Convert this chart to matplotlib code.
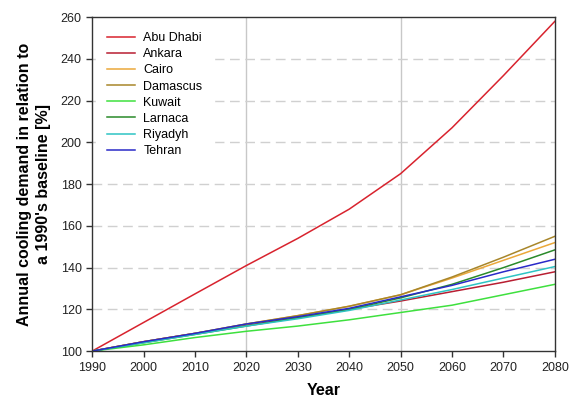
import matplotlib
matplotlib.use("Agg")
import matplotlib.pyplot as plt

plt.rcParams['font.family'] = ['Liberation Sans', 'DejaVu Sans']

years = [1990, 2000, 2010, 2020, 2030, 2040, 2050, 2060, 2070, 2080]

abu_dhabi = [100, 113.7, 127.4, 141, 154, 168, 185, 207, 232, 258]
ankara    = [100, 104.5, 108.5, 112.5, 116, 120, 124, 128.5, 133, 138]
cairo     = [100, 104.5, 108.5, 113, 117, 121.5, 127, 135, 143.5, 152]
damascus  = [100, 104.5, 108.5, 113, 117, 121.5, 127, 135.5, 145, 155]
kuwait    = [100, 103, 106.5, 109.5, 112, 115, 118.5, 122, 127, 132]
larnaca   = [100, 104, 108, 112, 116, 120, 125.5, 132, 140, 148.5]
riyadyh   = [100, 104, 108, 112, 115.5, 119.5, 124.5, 129.5, 135, 140.5]
tehran    = [100, 104.5, 108.5, 113, 116.5, 120.5, 126, 131.5, 138, 144]

cities = ["Abu Dhabi", "Ankara", "Cairo", "Damascus", "Kuwait",
          "Larnaca", "Riyadyh", "Tehran"]
series = [abu_dhabi, ankara, cairo, damascus, kuwait, larnaca, riyadyh, tehran]
colors = ["#d8232e", "#b81e32", "#eba83a", "#a8862a", "#3ee03e",
          "#2a8a2a", "#2ec4c4", "#2a2ac8"]

x_ticks = list(range(1990, 2081, 10))
y_ticks = list(range(100, 261, 20))

fig = plt.figure(figsize=(5.72, 3.99), dpi=100)
ax = fig.add_axes([0.161, 0.120, 0.809, 0.837])

# grid: solid verticals at 2020 and 2050, dashed horizontals
for gx in (2020, 2050):
    ax.axvline(gx, color="#c8c8c8", lw=1.0, zorder=0)
for gy in y_ticks[1:-1]:
    ax.axhline(gy, color="#d0d0d0", lw=1.0, ls=(0, (7, 4)), zorder=0)

for name, vals, c in zip(cities, series, colors):
    ax.plot(years, vals, color=c, lw=1.1, label=name)

ax.set_xlim(1990, 2080)
ax.set_ylim(100, 260)
ax.set_xticks(x_ticks)
ax.set_yticks(y_ticks)
ax.tick_params(direction="out", length=4, width=1, labelsize=9,
               colors="#333333", labelcolor="#222222", top=False, right=False)
for s in ax.spines.values():
    s.set_linewidth(1.0)
    s.set_color("#333333")

ax.set_xlabel("Year", fontsize=11.5, fontweight="bold", labelpad=7)
ax.set_ylabel("Annual cooling demand in relation to\na 1990's baseline [%]",
              fontsize=11.5, fontweight="bold", labelpad=7, linespacing=1.35)

leg = ax.legend(loc="upper left", frameon=True, fontsize=9, handlelength=2.25,
                handletextpad=0.65, borderaxespad=0.3, labelspacing=0.33,
                borderpad=0.9)
leg.get_frame().set_edgecolor("white")
leg.get_frame().set_facecolor("white")
leg.get_frame().set_alpha(1.0)
leg.get_frame().set_boxstyle("square", pad=0.0)

fig.savefig("out.png", dpi=100)
